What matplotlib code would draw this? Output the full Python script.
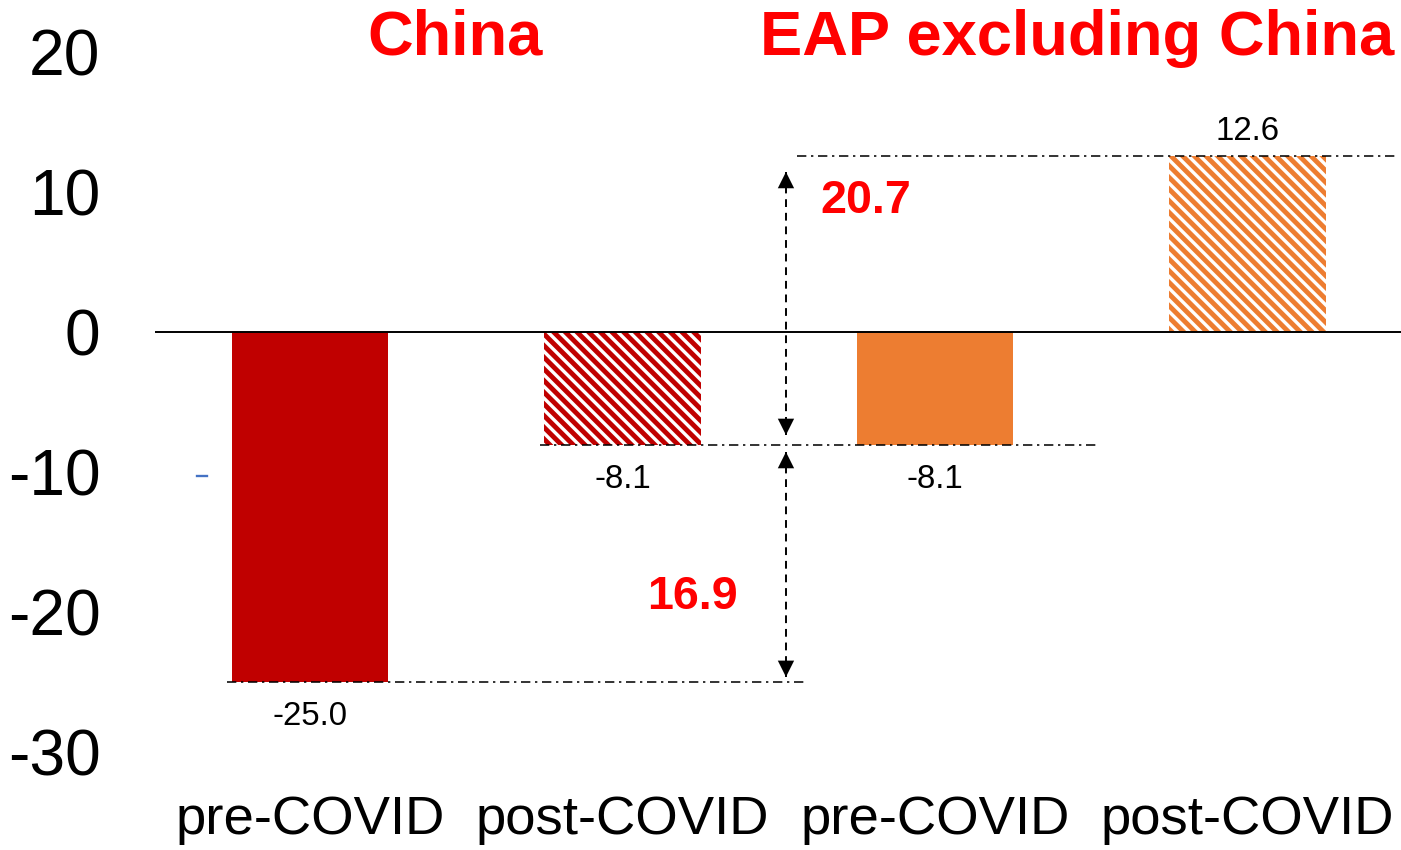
import matplotlib
matplotlib.use("Agg")
import matplotlib.pyplot as plt

plt.rcParams['font.family'] = ['Liberation Sans', 'DejaVu Sans']
plt.rcParams['hatch.linewidth'] = 2.5

# data
periods = ['pre-COVID', 'post-COVID', 'pre-COVID', 'post-COVID']
values = [-25.0, -8.1, -8.1, 12.6]
colors = ['#C00000', '#C00000', '#ED7D31', '#ED7D31']
hatched = [False, True, False, True]
groups = ['China', 'EAP excluding China']
gaps = [16.9, 20.7]

RED = '#FF0000'

dpi = 140
fig = plt.figure(figsize=(1401 / dpi, 850 / dpi), dpi=dpi)
ax = fig.add_axes([155 / 1401, 84 / 850, 1246 / 1401, 766 / 850])

x = list(range(len(values)))
for xi, v, c, h in zip(x, values, colors, hatched):
    if h:
        ax.bar(xi, v, width=0.5, facecolor='white', edgecolor=c, hatch='\\\\\\\\',
               linewidth=0, zorder=2)
    else:
        ax.bar(xi, v, width=0.5, color=c, linewidth=0, zorder=2)

ax.axhline(0, color='black', lw=1.0, zorder=3)

# value labels
for xi, v in zip(x, values):
    if v < 0:
        ax.annotate(f'{v:.1f}', (xi, v), xytext=(0, -22), textcoords='offset points',
                    ha='center', va='baseline', fontsize=17)
    else:
        ax.annotate(f'{v:.1f}', (xi, v), xytext=(0, 8), textcoords='offset points',
                    ha='center', va='baseline', fontsize=17)

# reference lines
dd = dict(color='black', lw=0.8, dashes=(6, 3, 1.5, 3), zorder=4)
ax.plot([-0.266, 1.584], [values[0], values[0]], **dd)
ax.plot([0.736, 2.528], [values[1], values[2]], **dd)
ax.plot([1.558, 3.472], [values[3], values[3]], **dd)


def gap_arrow(xa, y_top, y_bot):
    # dashed shaft with solid filled heads at both ends
    ax.plot([xa, xa], [y_top, y_bot], color='black', lw=1.0, dashes=(4, 3), zorder=4)
    head = dict(arrowstyle='-|>', color='black', lw=0, mutation_scale=21,
                shrinkA=0, shrinkB=0)
    ax.annotate('', xy=(xa, y_top), xytext=(xa, y_top - 0.5), arrowprops=head)
    ax.annotate('', xy=(xa, y_bot), xytext=(xa, y_bot + 0.5), arrowprops=head)


gap_arrow(1.523, 11.43, -7.36)
gap_arrow(1.523, -8.57, -24.64)

ax.text(1.779, 8.5, f'{gaps[1]:.1f}', color=RED, fontsize=24, fontweight='bold',
        ha='center', va='baseline')
ax.text(1.224, -19.79, f'{gaps[0]:.1f}', color=RED, fontsize=24, fontweight='bold',
        ha='center', va='baseline')

# group titles
ax.text(0.464, 19.8, groups[0], color=RED, fontsize=32.5, fontweight='bold',
        ha='center', va='baseline')
ax.text(2.454, 19.8, groups[1], color=RED, fontsize=32.5, fontweight='bold',
        ha='center', va='baseline')

# stray tick mark
ax.plot([-0.362, -0.33], [-10.3, -10.3], color='#4472C4', lw=1.2)

ax.set_xlim(-0.496, 3.491)
ax.set_ylim(-31.0, 23.71)
ax.set_yticks([-30, -20, -10, 0, 10, 20])
ax.set_yticklabels(['-30', '-20', '-10', '0', '10', '20'], fontsize=33)
ax.set_xticks(x)
ax.set_xticklabels(periods, fontsize=28)
ax.tick_params(axis='y', length=0, pad=28)
ax.tick_params(axis='x', length=0, pad=15)
for s in ax.spines.values():
    s.set_visible(False)

fig.savefig('out.png', dpi=dpi)
